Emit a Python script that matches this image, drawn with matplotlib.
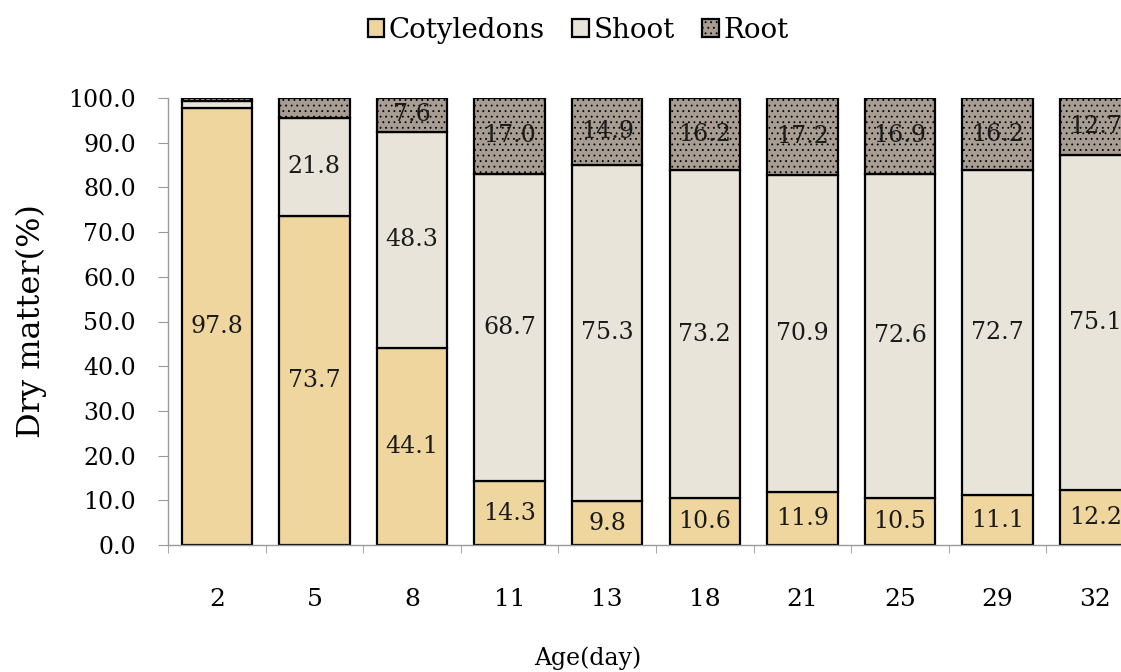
import matplotlib
matplotlib.use("Agg")
import matplotlib.pyplot as plt
import numpy as np

ages = ["2", "5", "8", "11", "13", "18", "21", "25", "29", "32"]
cotyledons = [97.8, 73.7, 44.1, 14.3, 9.8, 10.6, 11.9, 10.5, 11.1, 12.2]
shoot = [1.6, 21.8, 48.3, 68.7, 75.3, 73.2, 70.9, 72.6, 72.7, 75.1]
root = [0.6, 4.5, 7.6, 17.0, 14.9, 16.2, 17.2, 16.9, 16.2, 12.7]
yticks = [0, 10, 20, 30, 40, 50, 60, 70, 80, 90, 100]

plt.rcParams['font.family'] = ['DejaVu Serif']
plt.rcParams['hatch.color'] = '#85796e'
plt.rcParams['hatch.linewidth'] = 0.6

W, H = 1121, 672
fig = plt.figure(figsize=(W / 100, H / 100), dpi=100)
left, right, bottom, top = 168, 1144, 545, 98
ax = fig.add_axes([left / W, (H - bottom) / H, (right - left) / W, (bottom - top) / H])

x = np.arange(len(ages))
width = 0.72
c_cot = '#EFD69F'
c_sh = '#E8E4DA'
c_rt = '#A89D92'

cot = np.array(cotyledons)
sh = np.array(shoot)
rt = np.array(root)
b1 = ax.bar(x, cot, width, color=c_cot, edgecolor='black', linewidth=1.6, label='Cotyledons')
b2 = ax.bar(x, sh, width, bottom=cot, color=c_sh, edgecolor='black', linewidth=1.6, label='Shoot')
b3 = ax.bar(x, rt, width, bottom=cot + sh, color=c_rt, edgecolor='black', linewidth=1.6,
            label='Root', hatch='...')

fs = 17
for i in range(len(ages)):
    ax.text(x[i], cot[i] / 2, f"{cot[i]:.1f}", ha='center', va='center', fontsize=fs, color='#1a1a1a')
    if sh[i] > 3:
        ax.text(x[i], cot[i] + sh[i] / 2, f"{sh[i]:.1f}", ha='center', va='center', fontsize=fs, color='#1a1a1a')
    if rt[i] > 5:
        ax.text(x[i], cot[i] + sh[i] + rt[i] / 2, f"{rt[i]:.1f}", ha='center', va='center', fontsize=fs, color='#1a1a1a')

ax.set_xlim(-0.5, len(ages) - 0.5)
ax.set_ylim(0, 100)
ax.set_yticks(yticks)
ax.set_yticklabels([f"{v:.1f}" for v in yticks], fontsize=fs)
ax.set_xticks(x)
ax.set_xticklabels(ages, fontsize=18)
ax.set_xticks(np.arange(-0.5, len(ages), 1.0), minor=True)
ax.tick_params(axis='x', which='major', length=0, pad=31)
ax.tick_params(axis='x', which='minor', length=6, color='#999999', direction='out')
ax.tick_params(axis='y', length=7, color='#999999', pad=16)
for s in ['top', 'right']:
    ax.spines[s].set_visible(False)
for s in ['left', 'bottom']:
    ax.spines[s].set_color('#999999')
    ax.spines[s].set_linewidth(1.0)

ax.set_ylabel('Dry matter(%)', fontsize=23, labelpad=15)
fig.text(588 / W, 1 - 658 / H, 'Age(day)', ha='center', va='center', fontsize=fs)

fig.legend(handles=[b1, b2, b3], loc='center', bbox_to_anchor=(578 / W, 1 - 30 / H),
           ncol=3, frameon=False, fontsize=20, handlelength=0.6, handleheight=0.6,
           handletextpad=0.15, columnspacing=1.0)

fig.savefig('out.png', dpi=100)
